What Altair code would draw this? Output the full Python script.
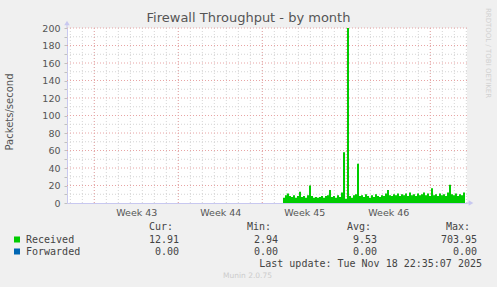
import altair as alt
import pandas as pd

# ---------------- data ----------------
# Received packets/second, 4-hour steps starting at day 18.0 of the plotted span
received = [6, 9, 11, 8, 7, 9, 6, 8, 13, 7, 8, 6, 9, 20, 8, 6, 7, 6, 7, 8,
            6, 8, 9, 15, 7, 8, 6, 9, 7, 12, 58, 5, 703.95, 8, 6, 9, 10, 45, 8, 9,
            7, 10, 8, 6, 9, 7, 10, 8, 7, 9, 8, 11, 15, 9, 8, 10, 9, 11, 8, 10,
            9, 11, 8, 12, 9, 10, 8, 11, 9, 10, 12, 9, 11, 8, 17, 9, 10, 8, 11, 9,
            10, 8, 12, 21, 10, 9, 11, 8, 10, 9, 12, 12.91]
start_day = 18.0
step_days = 1 / 6
span_days = 400 / 12

week_starts = [2.275, 9.275, 16.275, 23.275, 30.275]
week_labels = ["Week 43", "Week 44", "Week 45", "Week 46"]
week_mids = [5.775, 12.775, 19.775, 26.775]
day_lines = [0.275 + k for k in range(34)]
y_major = [20, 40, 60, 80, 100, 120, 140, 160, 180, 200]
y_minor = [10, 30, 50, 70, 90, 110, 130, 150, 170, 190]
y_ticks = list(range(0, 201, 10))

series_names = ["Received", "Forwarded"]
series_colors = ["#00cc00", "#0066b3"]
cur_vals = ["12.91", "0.00"]
min_vals = ["2.94", "0.00"]
avg_vals = ["9.53", "0.00"]
max_vals = ["703.95", "0.00"]

title_text = "Firewall Throughput - by month"
y_title = "Packets/second"
last_update = "Last update: Tue Nov 18 22:35:07 2025"
munin_ver = "Munin 2.0.75"
rrd_text = "RRDTOOL / TOBI OETIKER"

# ---------------- chart ----------------
df = pd.DataFrame({"day": [start_day + i * step_days for i in range(len(received))],
                   "value": received})

W, H = 400, 175
xscale = alt.Scale(domain=[0, span_days], nice=False, zero=False)
yscale = alt.Scale(domain=[0, 200], nice=False)

SANS = "DejaVu Sans"
MONO = "DejaVu Sans Mono"
AXIS_COL = "#c8c8f0"

label_expr = " : ".join(
    f"abs(datum.value - {m}) < 0.01 ? '{l}'" for m, l in zip(week_mids, week_labels)
) + " : ''"

x_axis = alt.Axis(values=week_mids, labelExpr=label_expr, tickSize=0,
                  grid=False, domainColor=AXIS_COL, labelFont=SANS,
                  labelFontSize=9.5, labelColor="#555", labelPadding=4,
                  title=None)
y_axis = alt.Axis(values=y_ticks,
                  labelExpr="datum.value % 20 == 0 ? datum.label : ''",
                  tickSize=3, tickColor="#c0c0c0", grid=False,
                  domainColor=AXIS_COL, labelFont=SANS, labelFontSize=9.5,
                  labelColor="#555", labelPadding=4, title=None)

def vrules(vals, color):
    return alt.Chart(pd.DataFrame({"v": vals})).mark_rule(
        color=color, strokeDash=[1, 2], strokeWidth=1
    ).encode(x=alt.X("v:Q", scale=xscale, axis=x_axis, title=None))

def hrules(vals, color):
    return alt.Chart(pd.DataFrame({"v": vals})).mark_rule(
        color=color, strokeDash=[1, 2], strokeWidth=1
    ).encode(y=alt.Y("v:Q", scale=yscale, axis=y_axis, title=None))

minor_col = "#d4d4d4"
major_col = "#e8a4a4"

area = alt.Chart(df).mark_area(
    interpolate="step-after", color="#00cc00", clip=True
).encode(
    x=alt.X("day:Q", scale=xscale, axis=x_axis, title=None),
    y=alt.Y("value:Q", scale=yscale, axis=y_axis, title=None),
)

def txt(s, x, y, font=SANS, size=10, color="#444", align="left", angle=0):
    return alt.Chart(pd.DataFrame({"t": [s]})).mark_text(
        font=font, fontSize=size, color=color, align=align, baseline="middle", angle=angle
    ).encode(x=alt.value(x - 67), y=alt.value(y - 28), text="t:N")

layers = [
    hrules(y_minor, minor_col), vrules(day_lines, minor_col),
    hrules(y_major, major_col), vrules(week_starts, major_col),
    area,
]

# axis arrows
layers.append(alt.Chart(pd.DataFrame({"a": [0]})).mark_rule(color=AXIS_COL).encode(
    x=alt.value(0), y=alt.value(-4), y2=alt.value(0)))
layers.append(alt.Chart(pd.DataFrame({"a": [0]})).mark_rule(color=AXIS_COL).encode(
    x=alt.value(W), x2=alt.value(W + 3), y=alt.value(H)))
layers.append(alt.Chart(pd.DataFrame({"a": [0]})).mark_point(
    shape="triangle-up", filled=True, size=30, color=AXIS_COL, opacity=1).encode(
    x=alt.value(0), y=alt.value(-5)))
layers.append(alt.Chart(pd.DataFrame({"a": [0]})).mark_point(
    shape="triangle-right", filled=True, size=30, color=AXIS_COL, opacity=1).encode(
    x=alt.value(W + 4), y=alt.value(H)))

# titles
layers.append(txt(title_text, 248.5, 18, size=13, color="#555", align="center"))
layers.append(txt(y_title, 10, 112, size=10, color="#555", align="center", angle=270))
layers.append(txt(rrd_text, 488, 53, size=7, color="#d0d0d0", align="center", angle=90))

# legend
layers.append(txt("Cur:", 173, 227, font=MONO, align="right"))
layers.append(txt("Min:", 271, 227, font=MONO, align="right"))
layers.append(txt("Avg:", 371, 227, font=MONO, align="right"))
layers.append(txt("Max:", 470, 227, font=MONO, align="right"))
row_y = [239.5, 251.5]
for name, col, c, mn, av, mx, ry in zip(series_names, series_colors, cur_vals,
                                          min_vals, avg_vals, max_vals, row_y):
    layers.append(alt.Chart(pd.DataFrame({"a": [0]})).mark_square(
        size=36, color=col, filled=True, opacity=1).encode(
        x=alt.value(17 - 67), y=alt.value(ry - 28)))
    layers.append(txt(name, 26, ry, font=MONO))
    layers.append(txt(c, 179, ry, font=MONO, align="right"))
    layers.append(txt(mn, 278, ry, font=MONO, align="right"))
    layers.append(txt(av, 377, ry, font=MONO, align="right"))
    layers.append(txt(mx, 477, ry, font=MONO, align="right"))

layers.append(txt(last_update, 482, 263.5, font=MONO, align="right"))
layers.append(txt(munin_ver, 247.5, 276, size=7.5, color="#cccccc", align="center"))

chart = alt.layer(*layers).properties(
    width=W, height=H,
    autosize=alt.AutoSizeParams(type="none"),
    padding={"left": 67, "top": 28, "right": 30, "bottom": 84},
).configure(background="#f0f0f0").configure_view(fill="white", stroke=None)

chart.save("out.html", embed_options={"renderer": "svg", "actions": False})
